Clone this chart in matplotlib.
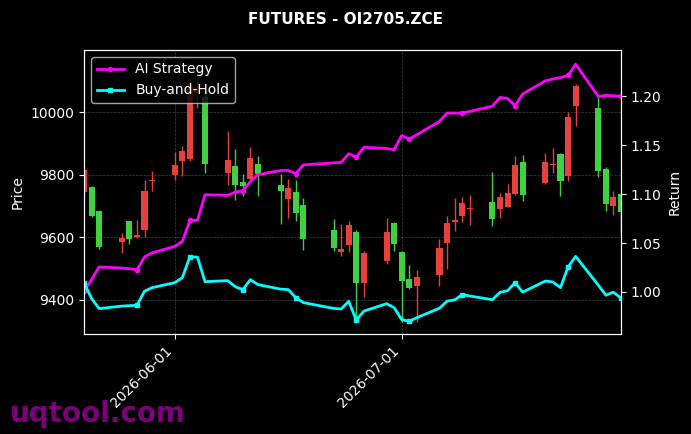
import matplotlib
matplotlib.use("Agg")
import matplotlib.pyplot as plt
import matplotlib.dates as mdates
from matplotlib.ticker import MultipleLocator
import pandas as pd
import numpy as np

# ---- data ----
dates = ["2026-05-20", "2026-05-21", "2026-05-22", "2026-05-25", "2026-05-26",
         "2026-05-27", "2026-05-28", "2026-05-29", "2026-06-01", "2026-06-02",
         "2026-06-03", "2026-06-04", "2026-06-05", "2026-06-08", "2026-06-09",
         "2026-06-10", "2026-06-11", "2026-06-12", "2026-06-15", "2026-06-16",
         "2026-06-17", "2026-06-18", "2026-06-22", "2026-06-23", "2026-06-24",
         "2026-06-25", "2026-06-26", "2026-06-29", "2026-06-30", "2026-07-01",
         "2026-07-02", "2026-07-03", "2026-07-06", "2026-07-07", "2026-07-08",
         "2026-07-09", "2026-07-10", "2026-07-13", "2026-07-14", "2026-07-15",
         "2026-07-16", "2026-07-17", "2026-07-20", "2026-07-21", "2026-07-22",
         "2026-07-23", "2026-07-24", "2026-07-27", "2026-07-28", "2026-07-29",
         "2026-07-30"]

opens = [9745, 9760, 9683, 9584, 9651, 9600, 9622, 9779, 9798, 9843,
         9850, 10060, 10050, 9805, 9827, 9776, 9787, 9833, 9767, 9723,
         9744, 9703, 9622, 9553, 9575, 9616, 9453, 9524, 9646, 9552,
         9467, 9444, 9479, 9583, 9650, 9668, 9690, 9714, 9691, 9698,
         9739, 9840, 9773, 9831, 9868, 9796, 10021, 10015, 9818, 9700,
         9739]
highs = [9822, 9763, 9686, 9613, 9653, 9654, 9782, 9811, 9872, 9891,
         10110, 10120, 10070, 9940, 9882, 9802, 9889, 9860, 9802, 9787,
         9783, 9725, 9659, 9643, 9652, 9623, 9556, 9661, 9648, 9555,
         9511, 9495, 9595, 9669, 9725, 9728, 9734, 9808, 9743, 9771,
         9861, 9863, 9871, 9885, 9870, 10000, 10090, 10050, 9826, 9748,
         9742]
lows = [9738, 9664, 9562, 9549, 9578, 9598, 9600, 9747, 9782, 9795,
        9845, 10013, 9805, 9767, 9719, 9732, 9780, 9732, 9642, 9661,
        9651, 9559, 9555, 9541, 9554, 9341, 9410, 9514, 9557, 9330,
        9435, 9330, 9445, 9499, 9620, 9650, 9638, 9636, 9661, 9696,
        9737, 9716, 9771, 9805, 9731, 9780, 9956, 9794, 9685, 9671,
        9607]
closes = [9815, 9667, 9568, 9597, 9594, 9606, 9747, 9782, 9830, 9875,
          10083, 10080, 9833, 9846, 9767, 9764, 9853, 9802, 9748, 9759,
          9677, 9594, 9567, 9562, 9639, 9453, 9549, 9618, 9579, 9460,
          9437, 9474, 9565, 9645, 9654, 9709, 9693, 9659, 9730, 9741,
          9831, 9735, 9840, 9834, 9780, 9986, 10085, 9812, 9707, 9730,
          9682]

ai_strategy = [1.0006, 1.0126, 1.0256, 1.0245, 1.0238, 1.0228, 1.0358, 1.0400, 1.0466, 1.0517,
               1.0732, 1.0732, 1.0995, 1.0988, 1.1020, 1.1036, 1.1130, 1.1200, 1.1243, 1.1243,
               1.1210, 1.1300, 1.1320, 1.1325, 1.1414, 1.1380, 1.1480, 1.1468, 1.1455, 1.1600,
               1.1564, 1.1608, 1.1745, 1.1830, 1.1830, 1.1830, 1.1847, 1.1900, 1.1990, 1.1980,
               1.1905, 1.2025, 1.2160, 1.2178, 1.2194, 1.2215, 1.2330, 1.2000, 1.2010, 1.2007,
               1.2000]
buy_and_hold = [1.0095, 0.9933, 0.9830, 0.9855, 0.9860, 0.9863, 1.0008, 1.0044, 1.0095, 1.0146,
                1.0360, 1.0356, 1.0105, 1.0116, 1.0054, 1.0024, 1.0126, 1.0075, 1.0029, 1.0024,
                0.9942, 0.9891, 0.9832, 0.9826, 0.9904, 0.9713, 0.9804, 0.9880, 0.9840, 0.9717,
                0.9700, 0.9737, 0.9834, 0.9906, 0.9919, 0.9972, 0.9959, 0.9921, 0.9996, 1.0013,
                1.0095, 0.9998, 1.0112, 1.0102, 1.0044, 1.0256, 1.0364, 1.0070, 0.9967, 0.9998,
                0.9935]

title = "FUTURES - OI2705.ZCE"

# ---- plot ----
plt.style.use("dark_background")
fig = plt.figure(figsize=(6.91, 4.34), dpi=100)
ax1 = fig.add_axes([84 / 691, 1 - 334 / 434, (621 - 84) / 691, (334 - 50) / 434])
ax2 = ax1.twinx()

x = mdates.date2num(pd.to_datetime(dates))
o = np.array(opens, float)
h = np.array(highs, float)
l = np.array(lows, float)
c = np.array(closes, float)
up = c >= o
RED = "#e8413c"
GREEN = "#3fd23f"
cols = np.where(up, RED, GREEN)

ax1.vlines(x, l, h, colors=cols, linewidth=1.0, zorder=2)
body_h = np.maximum(np.abs(c - o), 2.0)
ax1.bar(x, body_h, bottom=np.minimum(o, c), width=0.8, color=cols,
        edgecolor=cols, linewidth=0, zorder=3)

ax1.set_xlim(x[0], x[-1])
ax1.set_ylim(9291, 10199)
ax1.yaxis.set_major_locator(MultipleLocator(200))
ax1.set_ylabel("Price", color="white")
ax1.grid(True, linestyle="--", linewidth=0.5, color="gray", alpha=0.5)
ax1.xaxis.set_major_locator(mdates.MonthLocator())
ax1.xaxis.set_major_formatter(mdates.DateFormatter("%Y-%m-%d"))
for lab in ax1.get_xticklabels():
    lab.set_rotation(45)
    lab.set_ha("right")

ax2.plot(x, ai_strategy, color="#ff00ff", linewidth=2, marker="o", markersize=3,
         markevery=5, label="AI Strategy")
ax2.plot(x, buy_and_hold, color="#00ffff", linewidth=2, marker="s", markersize=3,
         markevery=5, label="Buy-and-Hold")
ax2.set_ylim(0.957, 1.2475)
ax2.yaxis.set_major_locator(MultipleLocator(0.05))
ax2.set_ylabel("Return", color="white")
ax2.set_xlim(x[0], x[-1])
leg = ax2.legend(loc="upper left", facecolor="black", edgecolor="0.8", framealpha=0.8)

fig.suptitle(title, fontsize=11, fontweight="bold", color="white", y=0.973)
fig.text(10 / 691, 1 - 422 / 434, "uqtool.com", fontsize=20, fontweight="bold",
         color="#8b008b", alpha=0.9, ha="left", va="baseline")

fig.savefig("out.png", dpi=100, facecolor="black")
